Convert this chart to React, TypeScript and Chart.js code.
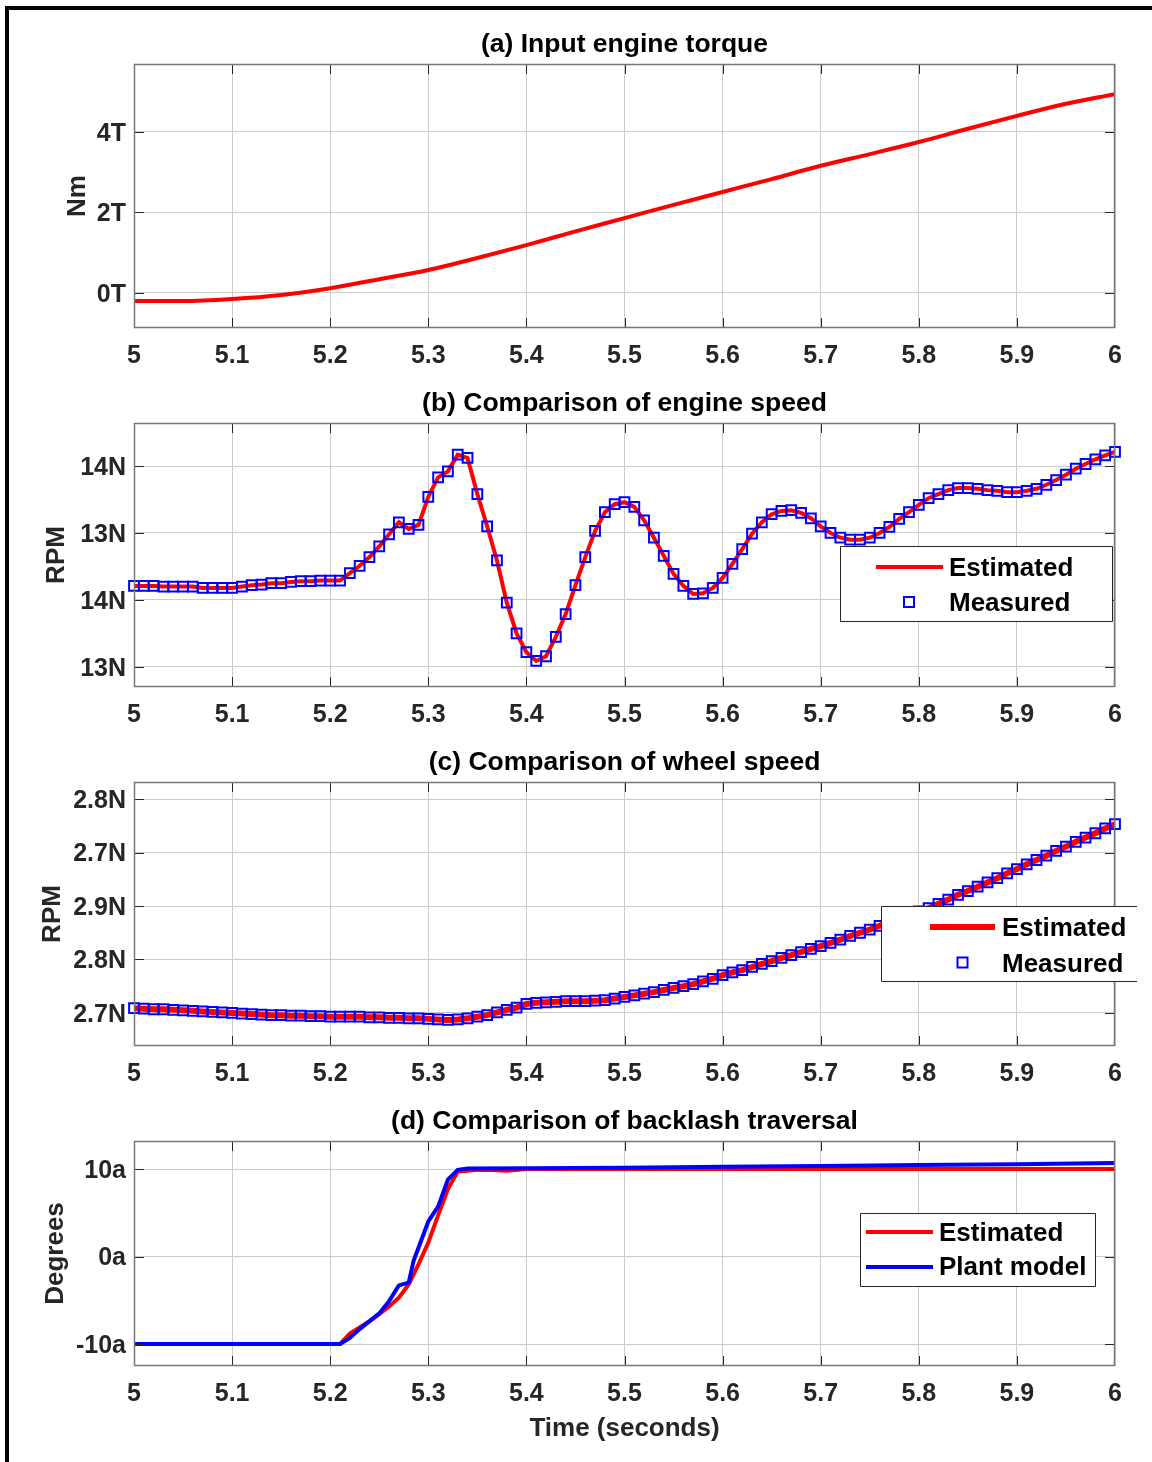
import React, { useEffect, useRef } from 'react';
import { Chart, registerables } from 'chart.js';

Chart.register(...registerables);

const FONT = '"Liberation Sans", Arial, Helvetica, sans-serif';

// ---------- shared x axis ----------
const xTicks = [5, 5.1, 5.2, 5.3, 5.4, 5.5, 5.6, 5.7, 5.8, 5.9, 6];
const xTickLabels = ['5', '5.1', '5.2', '5.3', '5.4', '5.5', '5.6', '5.7', '5.8', '5.9', '6'];

// ---------- (a) input engine torque ----------
const torqueTime = [5.0, 5.05, 5.1, 5.15, 5.2, 5.25, 5.3, 5.35, 5.4, 5.45, 5.5, 5.55, 5.6, 5.65, 5.7, 5.75, 5.8, 5.85, 5.9, 5.95, 6.0];
const torque = [-0.2, -0.2, -0.15, -0.05, 0.12, 0.34, 0.57, 0.87, 1.19, 1.53, 1.86, 2.19, 2.51, 2.83, 3.16, 3.45, 3.75, 4.08, 4.4, 4.7, 4.94];
const torqueTicks = [0, 2, 4];
const torqueTickLabels = ['0T', '2T', '4T'];

// ---------- sample grid for (b) and (c) ----------
const sampleTime = Array.from({ length: 101 }, (_, i) => Math.round((5 + i * 0.01) * 100) / 100);

// ---------- (b) engine speed ----------
const engineSpeed = [
  1.21, 1.21, 1.21, 1.2, 1.2, 1.2, 1.2, 1.18, 1.18, 1.18,
  1.18, 1.2, 1.22, 1.23, 1.25, 1.25, 1.27, 1.28, 1.28, 1.29,
  1.29, 1.29, 1.4, 1.51, 1.64, 1.8, 1.98, 2.16, 2.06, 2.12,
  2.54, 2.83, 2.92, 3.17, 3.12, 2.58, 2.1, 1.59, 0.96, 0.5,
  0.22, 0.09, 0.16, 0.45, 0.79, 1.22, 1.64, 2.03, 2.31, 2.43,
  2.46, 2.39, 2.19, 1.93, 1.66, 1.39, 1.21, 1.09, 1.1, 1.18,
  1.33, 1.54, 1.76, 1.99, 2.16, 2.28, 2.33, 2.34, 2.3, 2.22,
  2.1, 2.0, 1.93, 1.9, 1.9, 1.93, 2.0, 2.09, 2.21, 2.31,
  2.42, 2.52, 2.58, 2.64, 2.67, 2.67, 2.66, 2.64, 2.63, 2.61,
  2.61, 2.63, 2.66, 2.72, 2.79, 2.87, 2.96, 3.03, 3.1, 3.16,
  3.21,
];
const engineTicks = [0, 1, 2, 3];
const engineTickLabels = ['13N', '14N', '13N', '14N'];

// ---------- (c) wheel speed ----------
const wheelSpeed = [
  0.09, 0.08, 0.07, 0.07, 0.06, 0.05, 0.04, 0.03, 0.02, 0.01,
  0.0, -0.01, -0.02, -0.03, -0.04, -0.04, -0.05, -0.05, -0.06, -0.06,
  -0.07, -0.07, -0.07, -0.07, -0.08, -0.08, -0.09, -0.09, -0.1, -0.1,
  -0.11, -0.12, -0.13, -0.12, -0.1, -0.07, -0.04, 0.01, 0.06, 0.1,
  0.17, 0.19, 0.2, 0.21, 0.22, 0.22, 0.22, 0.23, 0.24, 0.27,
  0.3, 0.33, 0.36, 0.39, 0.43, 0.47, 0.5, 0.54, 0.59, 0.64,
  0.71, 0.76, 0.8, 0.86, 0.92, 0.97, 1.03, 1.08, 1.14, 1.2,
  1.25, 1.31, 1.37, 1.44, 1.5, 1.56, 1.63, 1.69, 1.76, 1.83,
  1.9, 1.96, 2.04, 2.12, 2.21, 2.28, 2.36, 2.44, 2.52, 2.61,
  2.69, 2.78, 2.86, 2.94, 3.03, 3.11, 3.2, 3.28, 3.36, 3.45,
  3.53,
];
const wheelTicks = [0, 1, 2, 3, 4];
const wheelTickLabels = ['2.7N', '2.8N', '2.9N', '2.7N', '2.8N'];

// ---------- (d) backlash traversal ----------
const backlashEstTime = [5.0, 5.21, 5.22, 5.23, 5.24, 5.25, 5.26, 5.27, 5.28, 5.29, 5.3, 5.31, 5.32, 5.33, 5.34, 5.35, 5.36, 5.38, 5.4, 5.5, 6.0];
const backlashEst = [-10, -10, -8.8, -8.1, -7.4, -6.6, -5.7, -4.7, -3.2, -0.9, 1.6, 4.7, 7.7, 9.7, 9.8, 9.9, 9.9, 9.8, 10, 10, 10];
const backlashPlantTime = [5.0, 5.21, 5.22, 5.23, 5.24, 5.25, 5.26, 5.27, 5.28, 5.285, 5.29, 5.3, 5.31, 5.32, 5.33, 5.34, 5.4, 5.5, 5.6, 5.7, 5.8, 5.9, 6.0];
const backlashPlant = [-10, -10, -9.3, -8.3, -7.4, -6.5, -5.1, -3.3, -3.0, -0.5, 1.0, 4.0, 5.7, 8.8, 9.9, 10.05, 10.1, 10.15, 10.25, 10.35, 10.45, 10.55, 10.7];
const backlashTicks = [-10, 0, 10];
const backlashTickLabels = ['-10a', '0a', '10a'];

const RED = '#ff0000';
const BLUE = '#0000ff';

type LegendItem = {
  kind: 'line' | 'square';
  color: string;
  lw: number;
  x1: number;
  x2: number;
  y: number;
  text: string;
  tx: number;
  ty: number;
};
type LegendSpec = { x: number; y: number; w: number; h: number; noRight?: boolean; items: LegendItem[] };

type PanelSpec = {
  plotTop: number;
  plotBottom: number;
  xAxisH: number;
  title: string;
  yTitle: string;
  yTitlePad: number;
  yMin: number;
  yMax: number;
  yTicks: number[];
  yTickLabels: string[];
  xTitle?: string;
  datasets: any[];
  legend: LegendSpec;
};

const TOP_BLOCK = 60;

function zip(xs: number[], ys: number[]) {
  return xs.map((x, i) => ({ x, y: ys[i] }));
}

function makeBoxPlugin(title: string, legend: LegendSpec) {
  return {
    id: 'matlabBox',
    afterDatasetsDraw(chart: any) {
      const { ctx, chartArea: a, scales } = chart;
      ctx.save();
      ctx.strokeStyle = '#262626';
      ctx.lineWidth = 1;
      ctx.beginPath();
      for (const t of scales.x.ticks) {
        const px = Math.round(scales.x.getPixelForValue(t.value)) + 0.5;
        if (px <= a.left + 2 || px >= a.right - 2) continue;
        ctx.moveTo(px, a.bottom);
        ctx.lineTo(px, a.bottom - 10);
        ctx.moveTo(px, a.top);
        ctx.lineTo(px, a.top + 10);
      }
      for (const t of scales.y.ticks) {
        const py = Math.round(scales.y.getPixelForValue(t.value)) + 0.5;
        if (py <= a.top + 2 || py >= a.bottom - 2) continue;
        ctx.moveTo(a.left, py);
        ctx.lineTo(a.left + 10, py);
        ctx.moveTo(a.right, py);
        ctx.lineTo(a.right - 10, py);
      }
      ctx.stroke();
      ctx.strokeStyle = '#777777';
      ctx.lineWidth = 1.5;
      ctx.strokeRect(a.left + 0.5, a.top + 0.5, a.right - a.left - 1, a.bottom - a.top - 1);
      ctx.restore();
    },
    afterDraw(chart: any) {
      const { ctx, chartArea: a } = chart;
      ctx.save();
      // panel title, centred over the plot area
      ctx.fillStyle = '#000000';
      ctx.font = `bold 26.5px ${FONT}`;
      ctx.textAlign = 'center';
      ctx.textBaseline = 'middle';
      ctx.fillText(title, (a.left + a.right) / 2, a.top - 19);

      const L = legend;
      if (L.items.length) {
        const bx = a.left + L.x;
        const by = a.top + L.y;
        ctx.fillStyle = '#ffffff';
        ctx.fillRect(bx, by, L.w, L.h);
        ctx.strokeStyle = '#262626';
        ctx.lineWidth = 1;
        ctx.beginPath();
        if (L.noRight) {
          ctx.moveTo(bx + L.w, by + 0.5);
          ctx.lineTo(bx + 0.5, by + 0.5);
          ctx.lineTo(bx + 0.5, by + L.h - 0.5);
          ctx.lineTo(bx + L.w, by + L.h - 0.5);
        } else {
          ctx.rect(bx + 0.5, by + 0.5, L.w - 1, L.h - 1);
        }
        ctx.stroke();
        for (const it of L.items) {
          ctx.strokeStyle = it.color;
          ctx.lineWidth = it.lw;
          if (it.kind === 'line') {
            ctx.beginPath();
            ctx.moveTo(a.left + it.x1, a.top + it.y);
            ctx.lineTo(a.left + it.x2, a.top + it.y);
            ctx.stroke();
          } else {
            const cx = a.left + (it.x1 + it.x2) / 2;
            const cy = a.top + it.y;
            ctx.strokeRect(cx - 5, cy - 5, 10, 10);
          }
          ctx.fillStyle = '#000000';
          ctx.font = `bold 26px ${FONT}`;
          ctx.textAlign = 'left';
          ctx.textBaseline = 'middle';
          ctx.fillText(it.text, a.left + it.tx, a.top + it.ty);
        }
      }
      ctx.restore();
    },
  };
}

function Panel({ spec }: { spec: PanelSpec }) {
  const ref = useRef<HTMLCanvasElement | null>(null);
  const plotH = spec.plotBottom - spec.plotTop;
  const canvasTop = spec.plotTop - TOP_BLOCK;
  const canvasH = TOP_BLOCK + plotH + spec.xAxisH;

  useEffect(() => {
    if (!ref.current) return;
    const titleFont = { family: FONT, size: 26, weight: 'bold' as const, lineHeight: 1.2 };
    const tickFont = { family: FONT, size: 25, weight: 'bold' as const, lineHeight: 1.2 };
    const chart = new Chart(ref.current, {
      type: 'scatter',
      data: { datasets: spec.datasets },
      options: {
        responsive: false,
        maintainAspectRatio: false,
        animation: false,
        devicePixelRatio: 1,
        events: [],
        layout: { autoPadding: false, padding: { left: 0, right: 37, top: TOP_BLOCK, bottom: 0 } },
        plugins: {
          legend: { display: false },
          tooltip: { enabled: false },
          title: { display: false },
        },
        scales: {
          x: {
            type: 'linear',
            min: 5,
            max: 6,
            border: { display: false },
            grid: { color: '#cccccc', lineWidth: 1, drawTicks: false },
            afterBuildTicks: (s: any) => {
              s.ticks = xTicks.map((v) => ({ value: v }));
            },
            afterFit: (s: any) => {
              s.height = spec.xAxisH;
            },
            ticks: {
              autoSkip: false,
              maxRotation: 0,
              padding: 13.3,
              color: '#262626',
              font: tickFont,
              callback: (_v: any, i: number) => xTickLabels[i],
            },
            title: spec.xTitle
              ? {
                  display: true,
                  text: spec.xTitle,
                  color: '#262626',
                  font: titleFont,
                  padding: { top: 0, bottom: spec.xAxisH - 63 - 15.6 },
                }
              : { display: false },
          },
          y: {
            type: 'linear',
            min: spec.yMin,
            max: spec.yMax,
            border: { display: false },
            grid: { color: '#cccccc', lineWidth: 1, drawTicks: false },
            afterBuildTicks: (s: any) => {
              s.ticks = spec.yTicks.map((v) => ({ value: v }));
            },
            afterFit: (s: any) => {
              s.width = 134;
            },
            ticks: {
              autoSkip: false,
              padding: 8,
              labelOffset: 2,
              color: '#262626',
              font: tickFont,
              callback: (_v: any, i: number) => spec.yTickLabels[i],
            },
            title: {
              display: true,
              text: spec.yTitle,
              color: '#262626',
              font: titleFont,
              padding: { top: spec.yTitlePad, bottom: 0 },
            },
          },
        },
      },
      plugins: [makeBoxPlugin(spec.title, spec.legend)],
    } as any);
    return () => chart.destroy();
  }, []);

  return (
    <canvas
      ref={ref}
      width={1152}
      height={canvasH}
      style={{ position: 'absolute', left: 0, top: canvasTop, width: 1152, height: canvasH }}
    />
  );
}

const lineDs = (label: string, pts: any[], color: string, width: number, order: number, smooth = false) => ({
  label,
  data: pts,
  showLine: true,
  borderColor: color,
  backgroundColor: color,
  borderWidth: width,
  pointRadius: 0,
  order,
  cubicInterpolationMode: smooth ? 'monotone' : 'default',
  tension: 0,
});

const markerDs = (label: string, pts: any[], order: number) => ({
  label,
  data: pts,
  showLine: false,
  pointStyle: 'rect',
  pointRadius: 6.9,
  pointBorderWidth: 2,
  pointBorderColor: BLUE,
  pointBackgroundColor: 'rgba(0,0,0,0)',
  borderColor: BLUE,
  backgroundColor: 'rgba(0,0,0,0)',
  clip: false,
  order,
});

const panels: PanelSpec[] = [
  {
    plotTop: 64,
    plotBottom: 328,
    xAxisH: 50,
    title: '(a) Input engine torque',
    yTitle: 'Nm',
    yTitlePad: 62,
    yMin: -0.87,
    yMax: 5.689,
    yTicks: torqueTicks,
    yTickLabels: torqueTickLabels,
    datasets: [lineDs('Torque', zip(torqueTime, torque), RED, 4, 1, true)],
    legend: { x: 0, y: 0, w: 0, h: 0, items: [] },
  },
  {
    plotTop: 423,
    plotBottom: 687,
    xAxisH: 50,
    title: '(b) Comparison of engine speed',
    yTitle: 'RPM',
    yTitlePad: 41,
    yMin: -0.299,
    yMax: 3.642,
    yTicks: engineTicks,
    yTickLabels: engineTickLabels,
    datasets: [
      lineDs('Estimated', zip(sampleTime, engineSpeed), RED, 4, 2),
      markerDs('Measured', zip(sampleTime, engineSpeed), 1),
    ],
    legend: {
      x: 706,
      y: 123,
      w: 273,
      h: 76,
      items: [
        { kind: 'line', color: RED, lw: 4, x1: 742, x2: 809, y: 144, text: 'Estimated', tx: 815, ty: 146 },
        { kind: 'square', color: BLUE, lw: 2, x1: 775, x2: 775, y: 179, text: 'Measured', tx: 815, ty: 181 },
      ],
    },
  },
  {
    plotTop: 782,
    plotBottom: 1046,
    xAxisH: 50,
    title: '(c) Comparison of wheel speed',
    yTitle: 'RPM',
    yTitlePad: 37,
    yMin: -0.617,
    yMax: 4.318,
    yTicks: wheelTicks,
    yTickLabels: wheelTickLabels,
    datasets: [
      lineDs('Estimated', zip(sampleTime, wheelSpeed), RED, 6, 2),
      markerDs('Measured', zip(sampleTime, wheelSpeed), 1),
    ],
    legend: {
      x: 747,
      y: 124,
      w: 256,
      h: 76,
      noRight: true,
      items: [
        { kind: 'line', color: RED, lw: 6, x1: 796, x2: 861, y: 145, text: 'Estimated', tx: 868, ty: 147 },
        { kind: 'square', color: BLUE, lw: 2, x1: 828.5, x2: 828.5, y: 180.5, text: 'Measured', tx: 868, ty: 183 },
      ],
    },
  },
  {
    plotTop: 1141,
    plotBottom: 1366,
    xAxisH: 85,
    title: '(d) Comparison of backlash traversal',
    yTitle: 'Degrees',
    yTitlePad: 40,
    yMin: -12.514,
    yMax: 13.2,
    yTicks: backlashTicks,
    yTickLabels: backlashTickLabels,
    xTitle: 'Time (seconds)',
    datasets: [
      lineDs('Estimated', zip(backlashEstTime, backlashEst), RED, 4, 2),
      lineDs('Plant model', zip(backlashPlantTime, backlashPlant), BLUE, 4, 1),
    ],
    legend: {
      x: 726,
      y: 72,
      w: 236,
      h: 74,
      items: [
        { kind: 'line', color: RED, lw: 4, x1: 732, x2: 799, y: 91, text: 'Estimated', tx: 805, ty: 93 },
        { kind: 'line', color: BLUE, lw: 4, x1: 732, x2: 799, y: 126, text: 'Plant model', tx: 805, ty: 127 },
      ],
    },
  },
];

export default function App() {
  return (
    <div style={{ position: 'absolute', left: 0, top: 0, width: 1152, height: 1462, background: '#ffffff', overflow: 'hidden' }}>
      {panels.map((p, i) => (
        <Panel key={i} spec={p} />
      ))}
      <div style={{ position: 'absolute', left: 5, top: 6, width: 4, height: 1456, background: '#000' }} />
      <div style={{ position: 'absolute', left: 5, top: 6, width: 1147, height: 4, background: '#000' }} />
    </div>
  );
}
